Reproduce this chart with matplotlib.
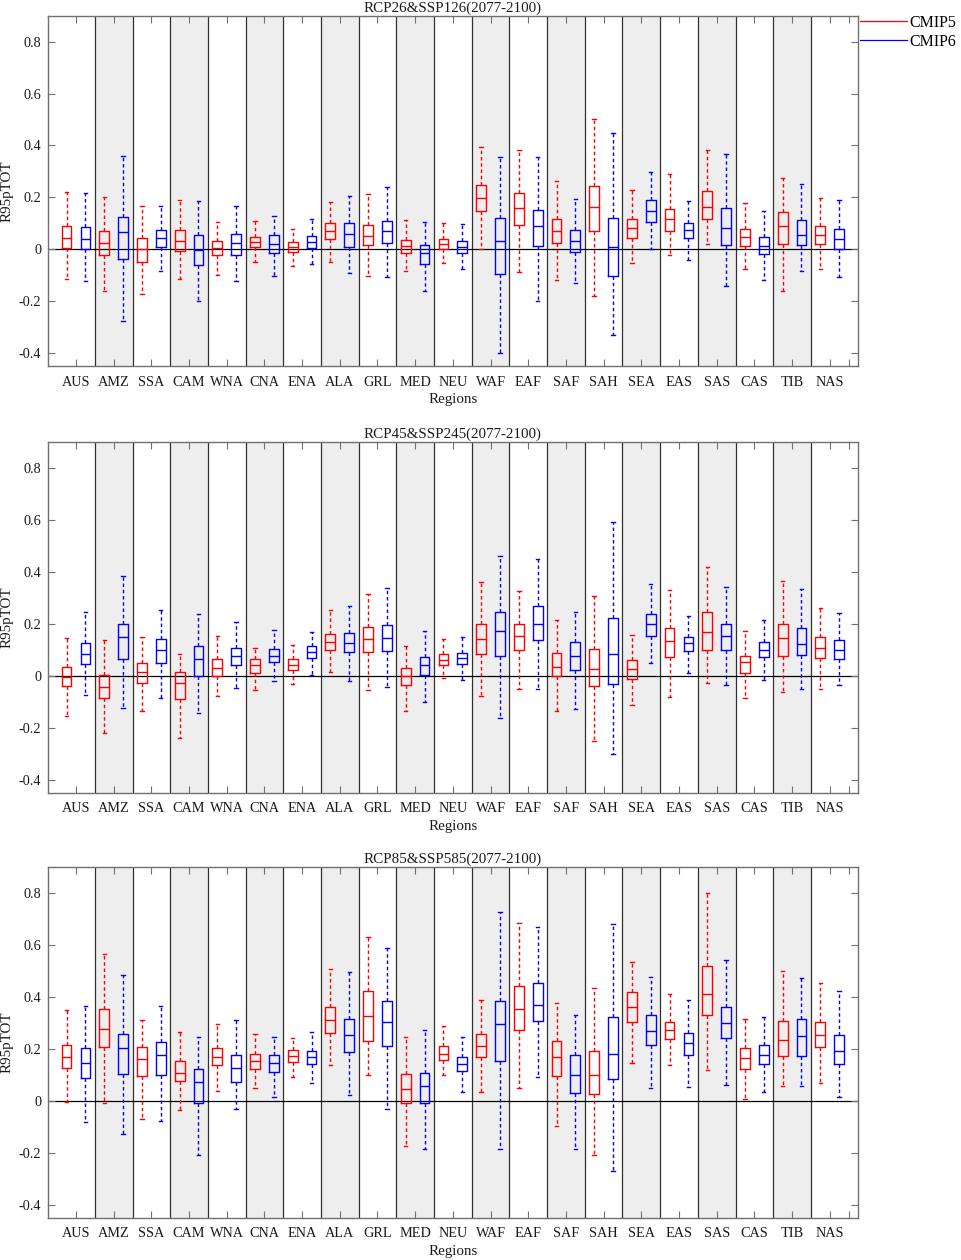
import numpy as np
import matplotlib
matplotlib.use('Agg')
import matplotlib.pyplot as plt
from matplotlib.lines import Line2D

plt.rcParams['font.family'] = ['Liberation Serif', 'DejaVu Serif']

regions = ['AUS', 'AMZ', 'SSA', 'CAM', 'WNA', 'CNA', 'ENA', 'ALA', 'GRL', 'MED', 'NEU',
           'WAF', 'EAF', 'SAF', 'SAH', 'SEA', 'EAS', 'SAS', 'CAS', 'TIB', 'NAS']
titles = ['RCP26&SSP126(2077-2100)', 'RCP45&SSP245(2077-2100)', 'RCP85&SSP585(2077-2100)']

# per region: (lower whisker, q1, median, q3, upper whisker)
rcp26_cmip5 = [
    (-0.113, 0.004, 0.045, 0.091, 0.220), (-0.160, -0.023, 0.023, 0.071, 0.200),
    (-0.173, -0.048, 0.000, 0.044, 0.168), (-0.114, -0.008, 0.032, 0.076, 0.189),
    (-0.098, -0.023, 0.006, 0.032, 0.104), (-0.050, 0.009, 0.028, 0.049, 0.110),
    (-0.064, -0.010, 0.010, 0.027, 0.077), (-0.049, 0.039, 0.071, 0.100, 0.184),
    (-0.103, 0.015, 0.050, 0.095, 0.213), (-0.085, -0.015, 0.012, 0.037, 0.113),
    (-0.053, 0.003, 0.022, 0.041, 0.100), (0.003, 0.149, 0.197, 0.248, 0.396),
    (-0.086, 0.095, 0.159, 0.218, 0.384), (-0.119, 0.023, 0.072, 0.118, 0.265),
    (-0.179, 0.071, 0.163, 0.244, 0.502), (-0.054, 0.045, 0.082, 0.117, 0.227),
    (-0.021, 0.072, 0.117, 0.157, 0.289), (0.019, 0.116, 0.164, 0.226, 0.382),
    (-0.076, 0.014, 0.046, 0.080, 0.177), (-0.160, 0.021, 0.091, 0.145, 0.274),
    (-0.075, 0.021, 0.055, 0.091, 0.197),
]
ssp126_cmip6 = [
    (-0.122, 0.000, 0.039, 0.085, 0.216), (-0.276, -0.037, 0.068, 0.123, 0.361),
    (-0.082, 0.010, 0.045, 0.076, 0.168), (-0.198, -0.060, -0.003, 0.057, 0.188),
    (-0.122, -0.023, 0.024, 0.060, 0.168), (-0.103, -0.012, 0.021, 0.057, 0.130),
    (-0.057, 0.005, 0.027, 0.053, 0.118), (-0.090, 0.010, 0.059, 0.100, 0.204),
    (-0.107, 0.023, 0.069, 0.110, 0.240), (-0.160, -0.055, -0.015, 0.017, 0.105),
    (-0.076, -0.013, 0.010, 0.033, 0.099), (-0.400, -0.094, 0.033, 0.119, 0.355),
    (-0.199, 0.012, 0.091, 0.153, 0.355), (-0.128, -0.010, 0.031, 0.075, 0.195),
    (-0.328, -0.103, 0.008, 0.121, 0.447), (0.000, 0.107, 0.148, 0.190, 0.298),
    (-0.040, 0.042, 0.073, 0.100, 0.188), (-0.141, 0.015, 0.082, 0.161, 0.366),
    (-0.118, -0.019, 0.014, 0.048, 0.146), (-0.085, 0.018, 0.055, 0.112, 0.252),
    (-0.108, 0.000, 0.039, 0.077, 0.189),
]
rcp45_cmip5 = [
    (-0.153, -0.041, -0.003, 0.032, 0.144), (-0.221, -0.086, -0.045, 0.003, 0.137),
    (-0.136, -0.027, 0.014, 0.048, 0.148), (-0.238, -0.089, -0.026, 0.014, 0.085),
    (-0.076, 0.000, 0.031, 0.064, 0.152), (-0.055, 0.010, 0.041, 0.063, 0.108),
    (-0.031, 0.021, 0.042, 0.063, 0.119), (0.015, 0.098, 0.130, 0.161, 0.252),
    (-0.055, 0.090, 0.141, 0.186, 0.315), (-0.136, -0.036, 0.000, 0.031, 0.113),
    (-0.008, 0.040, 0.060, 0.082, 0.143), (-0.077, 0.083, 0.141, 0.198, 0.360),
    (-0.051, 0.099, 0.154, 0.200, 0.326), (-0.136, -0.001, 0.033, 0.087, 0.213),
    (-0.253, -0.040, 0.028, 0.105, 0.306), (-0.112, -0.012, 0.028, 0.059, 0.158),
    (-0.083, 0.073, 0.134, 0.184, 0.330), (-0.028, 0.100, 0.170, 0.245, 0.419),
    (-0.087, 0.010, 0.053, 0.076, 0.172), (-0.064, 0.078, 0.146, 0.199, 0.366),
    (-0.049, 0.068, 0.107, 0.148, 0.262),
]
ssp245_cmip6 = [
    (-0.073, 0.045, 0.082, 0.126, 0.244), (-0.123, 0.065, 0.150, 0.199, 0.384),
    (-0.085, 0.048, 0.100, 0.140, 0.254), (-0.144, 0.000, 0.064, 0.114, 0.239),
    (-0.048, 0.040, 0.076, 0.108, 0.208), (-0.019, 0.053, 0.076, 0.103, 0.178),
    (0.004, 0.069, 0.090, 0.113, 0.168), (-0.020, 0.090, 0.127, 0.164, 0.267),
    (-0.044, 0.096, 0.146, 0.195, 0.339), (-0.100, 0.003, 0.040, 0.072, 0.173),
    (-0.015, 0.045, 0.068, 0.086, 0.148), (-0.163, 0.078, 0.172, 0.244, 0.460),
    (-0.050, 0.136, 0.199, 0.267, 0.451), (-0.127, 0.023, 0.078, 0.130, 0.244),
    (-0.303, -0.030, 0.082, 0.222, 0.593), (0.051, 0.155, 0.199, 0.238, 0.352),
    (0.010, 0.094, 0.125, 0.150, 0.232), (-0.037, 0.099, 0.152, 0.199, 0.342),
    (-0.015, 0.071, 0.100, 0.131, 0.214), (-0.049, 0.080, 0.123, 0.184, 0.336),
    (-0.037, 0.064, 0.100, 0.137, 0.240),
]
rcp85_cmip5 = [
    (-0.003, 0.125, 0.167, 0.213, 0.348), (-0.008, 0.208, 0.277, 0.353, 0.565),
    (-0.069, 0.095, 0.161, 0.207, 0.312), (-0.037, 0.076, 0.107, 0.152, 0.263),
    (0.037, 0.136, 0.168, 0.202, 0.297), (0.048, 0.123, 0.155, 0.182, 0.256),
    (0.092, 0.150, 0.172, 0.194, 0.240), (0.137, 0.261, 0.311, 0.360, 0.506),
    (0.101, 0.232, 0.326, 0.421, 0.630), (-0.176, -0.010, 0.044, 0.103, 0.247),
    (0.100, 0.157, 0.180, 0.209, 0.288), (0.035, 0.168, 0.209, 0.258, 0.388),
    (0.051, 0.274, 0.354, 0.442, 0.684), (-0.099, 0.095, 0.168, 0.230, 0.378),
    (-0.207, 0.027, 0.099, 0.190, 0.433), (0.145, 0.302, 0.360, 0.417, 0.534),
    (0.137, 0.236, 0.272, 0.304, 0.410), (0.119, 0.330, 0.413, 0.517, 0.800),
    (0.005, 0.123, 0.166, 0.203, 0.316), (0.057, 0.172, 0.234, 0.306, 0.498),
    (0.068, 0.207, 0.252, 0.304, 0.455),
]
ssp585_cmip6 = [
    (-0.081, 0.087, 0.146, 0.205, 0.365), (-0.127, 0.104, 0.203, 0.259, 0.483),
    (-0.078, 0.100, 0.176, 0.225, 0.363), (-0.207, -0.010, 0.073, 0.121, 0.244),
    (-0.032, 0.074, 0.127, 0.178, 0.311), (0.014, 0.109, 0.145, 0.175, 0.244),
    (0.067, 0.141, 0.168, 0.190, 0.263), (0.023, 0.189, 0.253, 0.313, 0.496),
    (-0.031, 0.211, 0.304, 0.384, 0.587), (-0.185, -0.010, 0.055, 0.107, 0.271),
    (0.033, 0.114, 0.143, 0.168, 0.247), (-0.185, 0.152, 0.295, 0.383, 0.726),
    (0.092, 0.307, 0.367, 0.452, 0.669), (-0.186, 0.030, 0.098, 0.177, 0.329),
    (-0.272, 0.082, 0.180, 0.321, 0.679), (0.050, 0.216, 0.268, 0.331, 0.478),
    (0.054, 0.178, 0.221, 0.261, 0.387), (0.062, 0.240, 0.298, 0.362, 0.541),
    (0.032, 0.140, 0.177, 0.213, 0.324), (0.055, 0.173, 0.249, 0.315, 0.473),
    (0.015, 0.141, 0.191, 0.253, 0.421),
]

panels = [(rcp26_cmip5, ssp126_cmip6), (rcp45_cmip5, ssp245_cmip6), (rcp85_cmip5, ssp585_cmip6)]
yticks = [-0.4, -0.2, 0, 0.2, 0.4, 0.6, 0.8]
ytick_labels = ['-0.4', '-0.2', '0', '0.2', '0.4', '0.6', '0.8']


def to_stats(rows):
    return [dict(whislo=r[0], q1=r[1], med=r[2], q3=r[3], whishi=r[4], fliers=[]) for r in rows]


fig = plt.figure(figsize=(9.62, 12.6), dpi=100)
bottoms = [0.7093, 0.3709, 0.0336]
pos = np.arange(1, len(regions) + 1)
frame = '#707070'

for k, (c5, c6) in enumerate(panels):
    ax = fig.add_axes([0.0496, bottoms[k], 0.8423, 0.2783])
    # shaded columns and separators
    for i in range(1, len(regions), 2):
        ax.axvspan(pos[i] - 0.5, pos[i] + 0.5, color='#eeeeee', lw=0, zorder=0)
    for b in pos[:-1] + 0.5:
        ax.axvline(b, color='#303030', lw=0.9, zorder=1)
    ax.axhline(0, color='black', lw=0.9, zorder=1)

    for data, off, col in ((c5, -0.25, 'red'), (c6, 0.25, 'blue')):
        ax.bxp(to_stats(data), positions=pos + off, widths=0.26, capwidths=0.09,
               showfliers=False, manage_ticks=False,
               boxprops=dict(color=col, lw=1.0),
               whiskerprops=dict(color=col, lw=1.0, ls=(0, (2.5, 2))),
               capprops=dict(color=col, lw=1.0),
               medianprops=dict(color=col, lw=1.0))

    ax.set_xlim(0.25, 21.75)
    ax.set_ylim(-0.45, 0.9)
    ax.set_xticks(list(pos) + [21.5], regions + [''])
    ax.set_yticks(yticks, ytick_labels)
    ax.tick_params(axis='both', direction='in', top=True, right=True, length=5,
                   color=frame, labelsize=10.3, labelcolor='#1a1a1a')
    ax.tick_params(axis='x', pad=7)
    ax.tick_params(axis='y', pad=4.5)
    for s in ax.spines.values():
        s.set_color(frame)
        s.set_linewidth(1.0)
    ax.set_title(titles[k], fontsize=10.8, pad=3, color='#1a1a1a')
    ax.set_xlabel('Regions', fontsize=10.8, labelpad=3, color='#1a1a1a')
    ax.set_ylabel('R95pTOT', fontsize=10.8, labelpad=4, color='#1a1a1a')

    if k == 0:
        handles = [Line2D([], [], color='red', lw=0.9), Line2D([], [], color='blue', lw=0.9)]
        ax.legend(handles, ['CMIP5', 'CMIP6'], loc='upper left', bbox_to_anchor=(1.003, 1.003),
                  frameon=False, fontsize=11.5, handlelength=2.9, handletextpad=0.15,
                  borderaxespad=0, borderpad=0, labelspacing=0.2)

fig.savefig('out.png', dpi=100)
